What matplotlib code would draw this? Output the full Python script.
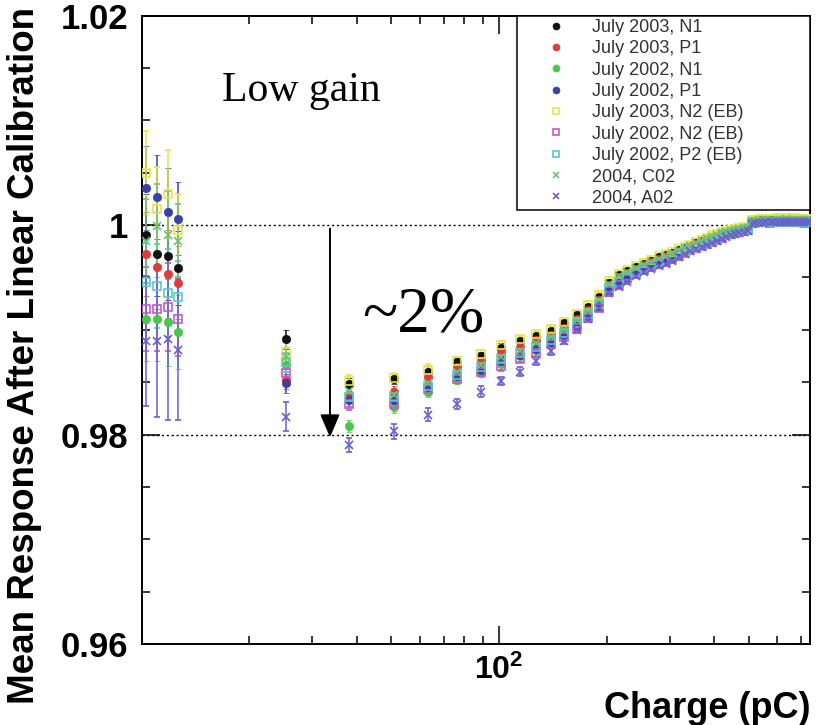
import matplotlib
matplotlib.use("Agg")
import matplotlib.pyplot as plt
from matplotlib.lines import Line2D
from matplotlib.ticker import FixedLocator, FixedFormatter, NullFormatter

plt.rcParams['font.family'] = ['Liberation Sans', 'DejaVu Sans']
plt.rcParams['mathtext.fontset'] = 'custom'
plt.rcParams['mathtext.rm'] = 'Liberation Sans:bold'
plt.rcParams['mathtext.bf'] = 'Liberation Sans:bold'

# charge points (pC): 4 low-gain offsets, then the ramp
charge = [10.3, 11.1, 11.9, 12.7,
          25.4, 38.1, 50.8, 63.5, 76.2, 88.9, 101.6, 114.3, 127.0, 139.7, 152.4,
          165.1, 177.8, 190.5, 203.2,
          215.9, 228.6, 241.3, 254.0, 266.7, 279.4, 292.1, 304.8, 317.5, 330.2,
          342.9, 355.6, 368.3, 381.0, 393.7, 406.4, 419.1, 431.8, 444.5, 457.2,
          469.9, 482.6, 495.3,
          508.0, 520.7, 533.4, 546.1, 558.8, 571.5, 584.2, 596.9, 609.6, 622.3,
          635.0, 647.7, 660.4, 673.1, 685.8, 698.5, 711.2, 723.9, 736.6]

jul03_n1 = [0.9990, 0.9972, 0.9970, 0.9959,
            0.9891, 0.9848, 0.9853, 0.9860, 0.9869, 0.9875, 0.9883, 0.9889, 0.9894, 0.9899, 0.9906,
            0.9914, 0.9922, 0.9931, 0.9945,
            0.9952, 0.9956, 0.9960, 0.9963, 0.9966, 0.9969, 0.9971, 0.9973, 0.9976, 0.9978,
            0.9980, 0.9983, 0.9985, 0.9987, 0.9989, 0.9990, 0.9992, 0.9993, 0.9994, 0.9995,
            0.9996, 0.9997, 0.9997,
            1.0004, 1.0004, 1.0005, 1.0005, 1.0005, 1.0005, 1.0005, 1.0006, 1.0005, 1.0005,
            1.0006, 1.0005, 1.0005, 1.0006, 1.0005, 1.0005, 1.0005, 1.0005, 1.0005]
jul03_p1 = [0.9972, 0.9960, 0.9953, 0.9945,
            0.9852, 0.9838, 0.9841, 0.9855, 0.9864, 0.9870, 0.9878, 0.9884, 0.9890, 0.9895, 0.9902,
            0.9910, 0.9919, 0.9928, 0.9943,
            0.9950, 0.9954, 0.9958, 0.9962, 0.9965, 0.9968, 0.9970, 0.9972, 0.9975, 0.9977,
            0.9980, 0.9982, 0.9984, 0.9986, 0.9988, 0.9990, 0.9992, 0.9993, 0.9994, 0.9995,
            0.9996, 0.9997, 0.9997,
            1.0003, 1.0004, 1.0004, 1.0004, 1.0005, 1.0004, 1.0005, 1.0005, 1.0004, 1.0005,
            1.0005, 1.0005, 1.0004, 1.0005, 1.0005, 1.0004, 1.0005, 1.0005, 1.0004]
jul02_n1 = [0.9910, 0.9910, 0.9907, 0.9898,
            0.9866, 0.9808, 0.9826, 0.9841, 0.9852, 0.9859, 0.9867, 0.9875, 0.9881, 0.9891, 0.9898,
            0.9907, 0.9916, 0.9926, 0.9942,
            0.9948, 0.9953, 0.9957, 0.9960, 0.9963, 0.9966, 0.9968, 0.9971, 0.9974, 0.9976,
            0.9979, 0.9981, 0.9983, 0.9985, 0.9987, 0.9989, 0.9991, 0.9992, 0.9993, 0.9994,
            0.9995, 0.9996, 0.9996,
            1.0003, 1.0003, 1.0004, 1.0004, 1.0004, 1.0004, 1.0004, 1.0005, 1.0004, 1.0004,
            1.0005, 1.0004, 1.0004, 1.0005, 1.0004, 1.0004, 1.0004, 1.0004, 1.0004]
jul02_p1 = [1.0035, 1.0027, 1.0012, 1.0006,
            0.9849, 0.9833, 0.9833, 0.9845, 0.9856, 0.9862, 0.9870, 0.9876, 0.9882, 0.9888, 0.9895,
            0.9904, 0.9913, 0.9923, 0.9938,
            0.9945, 0.9949, 0.9954, 0.9958, 0.9961, 0.9964, 0.9966, 0.9968, 0.9971, 0.9974,
            0.9977, 0.9979, 0.9981, 0.9983, 0.9985, 0.9987, 0.9989, 0.9990, 0.9991, 0.9992,
            0.9993, 0.9994, 0.9995,
            1.0002, 1.0002, 1.0003, 1.0003, 1.0003, 1.0003, 1.0003, 1.0004, 1.0003, 1.0003,
            1.0004, 1.0003, 1.0003, 1.0004, 1.0003, 1.0003, 1.0003, 1.0003, 1.0003]
jul03_n2 = [1.0050, 1.0015, 1.0030, 0.9995,
            0.9879, 0.9851, 0.9854, 0.9862, 0.9870, 0.9877, 0.9885, 0.9891, 0.9896, 0.9901, 0.9907,
            0.9915, 0.9924, 0.9933, 0.9947,
            0.9953, 0.9957, 0.9961, 0.9964, 0.9967, 0.9970, 0.9972, 0.9974, 0.9977, 0.9979,
            0.9981, 0.9984, 0.9986, 0.9988, 0.9990, 0.9991, 0.9993, 0.9994, 0.9995, 0.9996,
            0.9997, 0.9998, 0.9998,
            1.0005, 1.0005, 1.0006, 1.0006, 1.0006, 1.0006, 1.0006, 1.0007, 1.0006, 1.0006,
            1.0007, 1.0006, 1.0006, 1.0007, 1.0006, 1.0006, 1.0006, 1.0006, 1.0006]
jul02_n2 = [0.9920, 0.9920, 0.9922, 0.9910,
            0.9859, 0.9829, 0.9829, 0.9843, 0.9853, 0.9860, 0.9865, 0.9872, 0.9878, 0.9886, 0.9893,
            0.9902, 0.9911, 0.9921, 0.9937,
            0.9943, 0.9948, 0.9953, 0.9957, 0.9960, 0.9963, 0.9965, 0.9968, 0.9971, 0.9973,
            0.9976, 0.9978, 0.9980, 0.9982, 0.9984, 0.9986, 0.9988, 0.9990, 0.9991, 0.9992,
            0.9993, 0.9994, 0.9995,
            1.0002, 1.0003, 1.0003, 1.0003, 1.0003, 1.0002, 1.0003, 1.0003, 1.0003, 1.0003,
            1.0003, 1.0003, 1.0003, 1.0003, 1.0003, 1.0003, 1.0002, 1.0003, 1.0003]
jul02_p2 = [0.9946, 0.9942, 0.9935, 0.9931,
            0.9869, 0.9836, 0.9836, 0.9846, 0.9857, 0.9864, 0.9872, 0.9878, 0.9884, 0.9890, 0.9897,
            0.9906, 0.9915, 0.9925, 0.9940,
            0.9946, 0.9951, 0.9955, 0.9959, 0.9962, 0.9965, 0.9967, 0.9970, 0.9973, 0.9975,
            0.9978, 0.9980, 0.9982, 0.9984, 0.9986, 0.9988, 0.9990, 0.9991, 0.9992, 0.9993,
            0.9994, 0.9995, 0.9996,
            1.0002, 1.0003, 1.0003, 1.0003, 1.0004, 1.0003, 1.0003, 1.0004, 1.0003, 1.0003,
            1.0004, 1.0003, 1.0004, 1.0003, 1.0003, 1.0004, 1.0003, 1.0003, 1.0004]
y2004_c02 = [0.9985, 0.9999, 0.9990, 0.9985,
             0.9874, 0.9842, 0.9838, 0.9849, 0.9860, 0.9866, 0.9874, 0.9880, 0.9887, 0.9893, 0.9900,
             0.9909, 0.9918, 0.9928, 0.9944,
             0.9951, 0.9955, 0.9959, 0.9962, 0.9965, 0.9968, 0.9970, 0.9972, 0.9975, 0.9978,
             0.9980, 0.9983, 0.9985, 0.9987, 0.9989, 0.9990, 0.9992, 0.9993, 0.9994, 0.9995,
             0.9996, 0.9997, 0.9997,
             1.0004, 1.0004, 1.0005, 1.0005, 1.0005, 1.0005, 1.0005, 1.0005, 1.0005, 1.0005,
             1.0006, 1.0005, 1.0005, 1.0005, 1.0005, 1.0005, 1.0005, 1.0005, 1.0005]
y2004_a02 = [0.9889, 0.9889, 0.9891, 0.9881,
             0.9817, 0.9790, 0.9803, 0.9819, 0.9829, 0.9841, 0.9851, 0.9860, 0.9870, 0.9880, 0.9889,
             0.9900, 0.9910, 0.9921, 0.9935,
             0.9941, 0.9946, 0.9951, 0.9955, 0.9958, 0.9961, 0.9963, 0.9966, 0.9969, 0.9972,
             0.9975, 0.9977, 0.9979, 0.9981, 0.9983, 0.9985, 0.9987, 0.9989, 0.9990, 0.9991,
             0.9992, 0.9993, 0.9994,
             1.0001, 1.0002, 1.0002, 1.0002, 1.0003, 1.0003, 1.0003, 1.0003, 1.0003, 1.0003,
             1.0003, 1.0003, 1.0003, 1.0003, 1.0003, 1.0003, 1.0003, 1.0003, 1.0003]

# error bars
err_common = [0.0040, 0.0040, 0.0042, 0.0035,
              0.0009, 0.0006, 0.0005, 0.0005, 0.0004, 0.0004, 0.0004, 0.0003, 0.0003, 0.0003, 0.0003,
              0.0003, 0.0003, 0.0003, 0.0003,
              0.0002, 0.0002, 0.0002, 0.0002, 0.0002, 0.0002, 0.0002, 0.0002, 0.0002, 0.0002,
              0.0002, 0.0002, 0.0002, 0.0002, 0.0002, 0.0002, 0.0002, 0.0002, 0.0002, 0.0002,
              0.0002, 0.0002, 0.0002,
              0.0002, 0.0002, 0.0002, 0.0002, 0.0002, 0.0002, 0.0002, 0.0002, 0.0002, 0.0002,
              0.0002, 0.0002, 0.0002, 0.0002, 0.0002, 0.0002, 0.0002, 0.0002, 0.0002]
err_a02 = [0.0062, 0.0072, 0.0077, 0.0067,
           0.0014, 0.0007, 0.0007, 0.0006, 0.0005, 0.0005, 0.0004, 0.0004, 0.0004, 0.0004, 0.0003,
           0.0003, 0.0003, 0.0003, 0.0003,
           0.0002, 0.0002, 0.0002, 0.0002, 0.0002, 0.0002, 0.0002, 0.0002, 0.0002, 0.0002,
           0.0002, 0.0002, 0.0002, 0.0002, 0.0002, 0.0002, 0.0002, 0.0002, 0.0002, 0.0002,
           0.0002, 0.0002, 0.0002,
           0.0002, 0.0002, 0.0002, 0.0002, 0.0002, 0.0002, 0.0002, 0.0002, 0.0002, 0.0002,
           0.0002, 0.0002, 0.0002, 0.0002, 0.0002, 0.0002, 0.0002, 0.0002, 0.0002]

labels = ['July 2003, N1', 'July 2003, P1', 'July 2002, N1', 'July 2002, P1',
          'July 2003, N2 (EB)', 'July 2002, N2 (EB)', 'July 2002, P2 (EB)',
          '2004, C02', '2004, A02']
series = [jul03_n1, jul03_p1, jul02_n1, jul02_p1, jul03_n2, jul02_n2, jul02_p2,
          y2004_c02, y2004_a02]
errors = [err_common] * 8 + [err_a02]
colors = ['#111111', '#e03a3a', '#48c848', '#3a40a8', '#e6e64a', '#c858c8',
          '#58c8d0', '#70c070', '#6a5ed0']
markers = ['o', 'o', 'o', 'o', 's', 's', 's', 'x', 'x']
filled = [True, True, True, True, False, False, False, True, True]

fig = plt.figure(figsize=(8.27, 7.25), dpi=100)
ax = fig.add_axes([142 / 827, 1 - 644 / 725, 668 / 827, 628.5 / 725])

ax.axhline(1.0, color='k', ls=(0, (1.5, 2)), lw=1, zorder=1)
ax.axhline(0.98, color='k', ls=(0, (1.5, 2)), lw=1, zorder=1)

handles = []
for y, e, c, m, f, lab in zip(series, errors, colors, markers, filled, labels):
    ms = 6 if m != 'x' else 5.5
    mew = 1.2 if m != 'o' else 0.5
    ax.errorbar(charge, y, yerr=e, fmt=m, color=c, ecolor=c, ms=ms,
                mfc=c if f else 'none', mec=c, mew=mew,
                elinewidth=1.1, capsize=2.5, capthick=1, zorder=3)
    handles.append(Line2D([], [], ls='none', marker=m, color=c, ms=5,
                          mfc=c if f else 'none', mec=c, mew=mew))

ax.set_xscale('log')
ax.set_xlim(10.05, 740)
ax.set_ylim(0.96, 1.02)

ax.xaxis.set_major_locator(FixedLocator([100]))
ax.xaxis.set_major_formatter(FixedFormatter([r'$\mathbf{10^{2}}$']))
ax.xaxis.set_minor_locator(FixedLocator([20, 30, 40, 50, 60, 70, 80, 90,
                                         200, 300, 400, 500, 600, 700]))
ax.xaxis.set_minor_formatter(NullFormatter())
ax.yaxis.set_major_locator(FixedLocator([0.96, 0.98, 1.0, 1.02]))
ax.yaxis.set_major_formatter(FixedFormatter(['0.96', '0.98', '1', '1.02']))
ax.yaxis.set_minor_locator(FixedLocator([0.965, 0.97, 0.975, 0.985, 0.99, 0.995,
                                         1.005, 1.01, 1.015]))

ax.tick_params(which='both', direction='in', top=True, right=True, width=1.1)
ax.tick_params(which='major', length=13)
ax.tick_params(which='minor', length=6)
ax.tick_params(axis='y', which='major', pad=10, labelsize=25)
ax.tick_params(axis='x', which='major', pad=8, labelsize=23)
for lab in ax.get_yticklabels():
    lab.set_fontweight('bold')
for sp in ax.spines.values():
    sp.set_linewidth(1.4)

fig.text(25 / 827, 1 - 355 / 725, 'Mean Response After Linear Calibration',
         rotation=90, ha='center', va='center', fontsize=26.5, fontweight='bold')
fig.text(810 / 827, 1 - 708 / 725, 'Charge (pC)', ha='right', va='center',
         fontsize=26, fontweight='bold')

ax.text(0.12, 0.881, 'Low gain', transform=ax.transAxes, ha='left', va='center',
        fontsize=30, family='Liberation Serif')
ax.text(0.329, 0.523, '~2%', transform=ax.transAxes, ha='left', va='center',
        fontsize=47, family='Liberation Serif')
ax.annotate('', xy=(0.2814, 0.329), xytext=(0.2814, 0.661), xycoords='axes fraction',
            arrowprops=dict(arrowstyle='-|>,head_length=0.7,head_width=0.3',
                            color='k', lw=1.4, mutation_scale=20, shrinkA=0, shrinkB=0))

leg = ax.legend(handles, labels, loc='upper left', bbox_to_anchor=(0.561, 1.0, 0.439, 0.0),
                mode='expand', borderaxespad=0, fontsize=13, labelspacing=0.24,
                handlelength=3.9, handletextpad=0.05, borderpad=0.2, fancybox=False,
                framealpha=1, edgecolor='k', labelcolor='#333333')
leg.get_frame().set_linewidth(1.1)

fig.savefig('out.png', dpi=100)
